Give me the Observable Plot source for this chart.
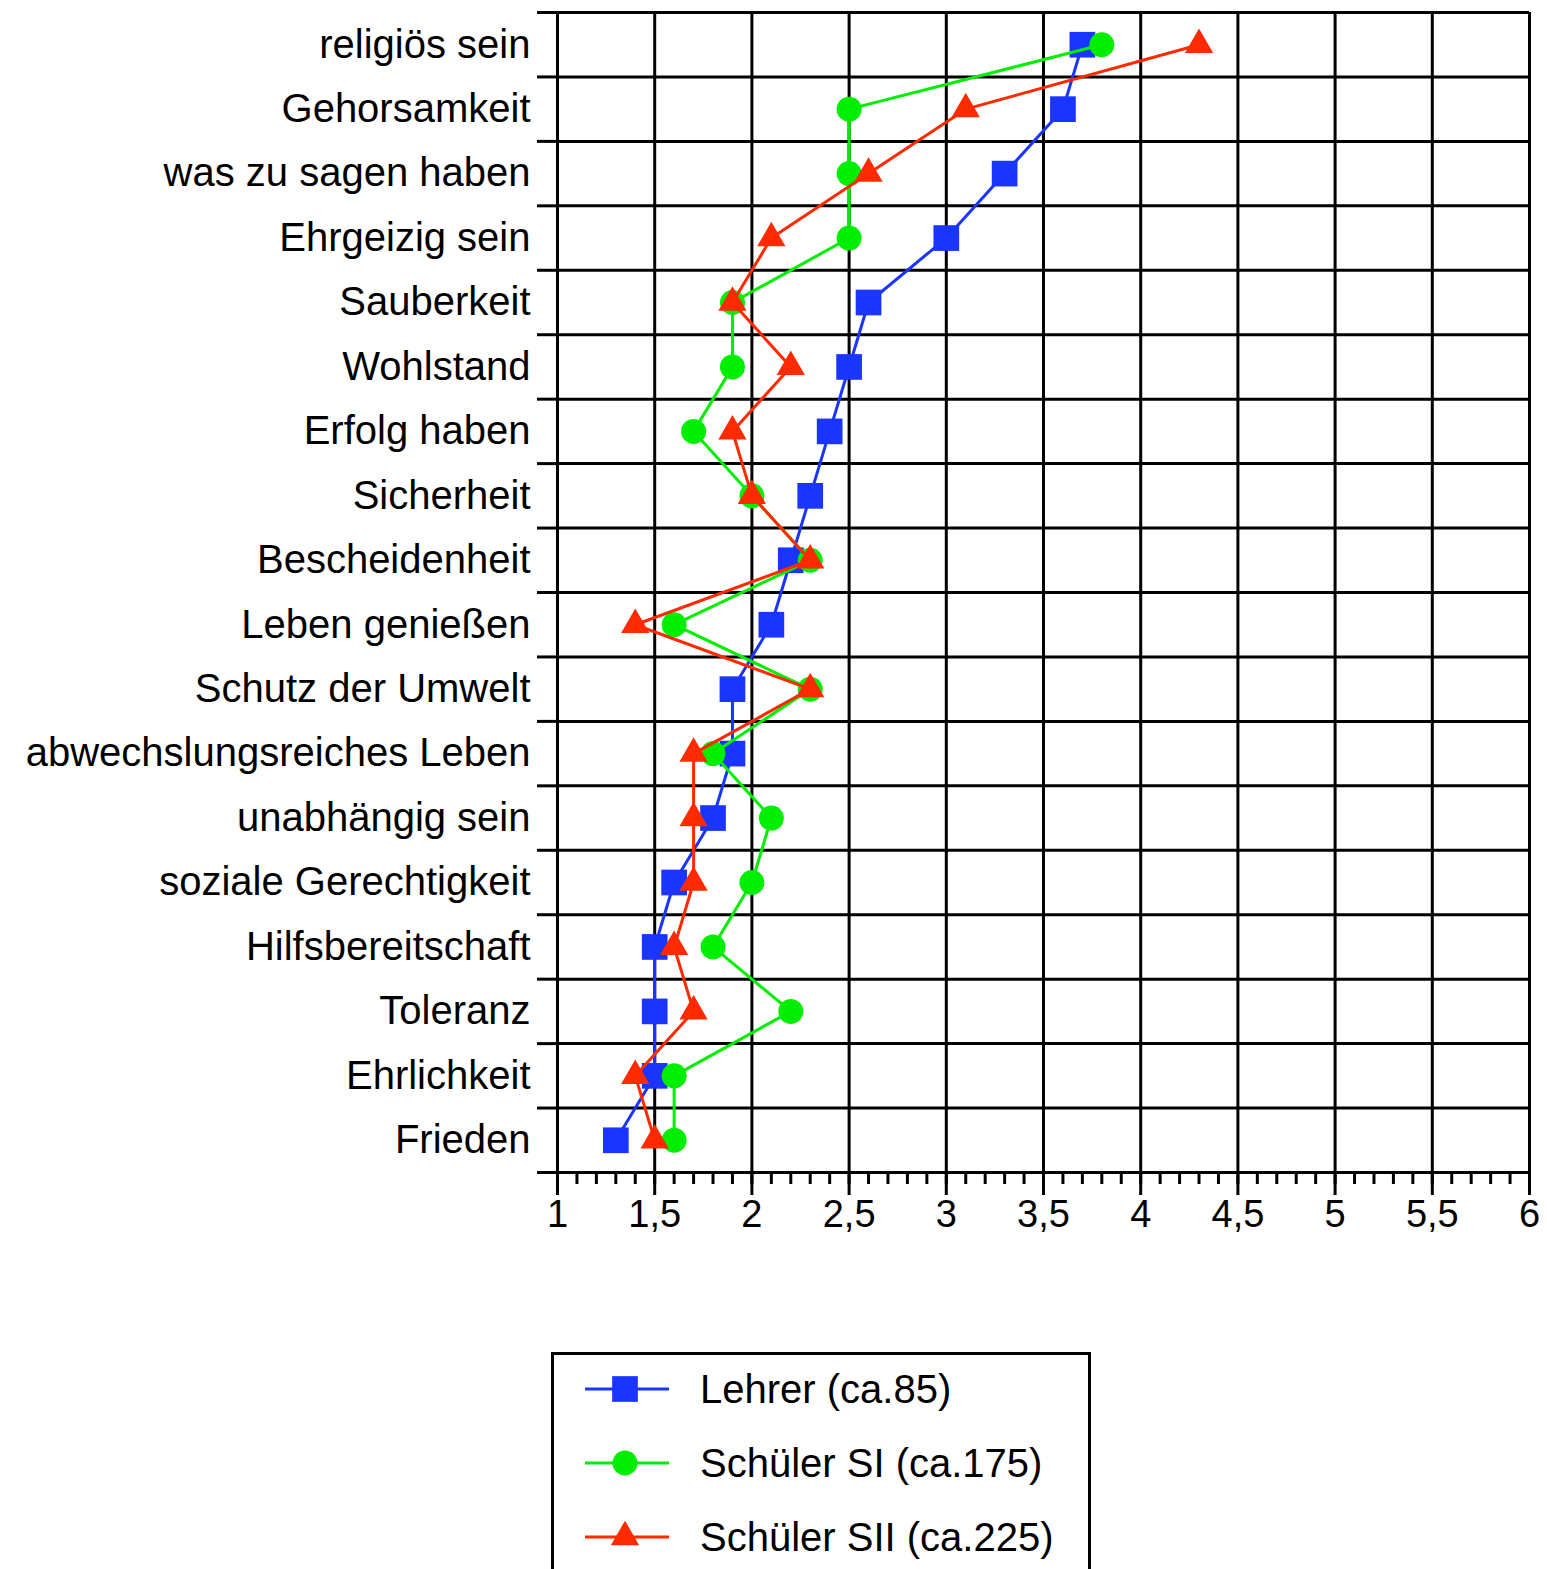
<!DOCTYPE html>
<html>
<head>
<meta charset="utf-8">
<script src="https://cdn.jsdelivr.net/npm/d3@7"></script>
<script src="https://cdn.jsdelivr.net/npm/@observablehq/plot@0.6"></script>
<style>
  body { margin: 0; background: #fff; font-family: "Liberation Sans", Arial, sans-serif; }
  #legend { position: absolute; left: 551px; top: 1352px; width: 534px; height: 240px; border: 3px solid #000; background: #fff; }
  .row { position: absolute; left: 30px; height: 50px; display: flex; align-items: center; }
  .row span { font-size: 40px; color: #000; margin-left: 30px; white-space: nowrap; }
</style>
</head>
<body>
<div id="chart"></div>
<div id="legend"></div>
<script>
const categories = ["religiös sein","Gehorsamkeit","was zu sagen haben","Ehrgeizig sein","Sauberkeit","Wohlstand","Erfolg haben","Sicherheit","Bescheidenheit","Leben genießen","Schutz der Umwelt","abwechslungsreiches Leben","unabhängig sein","soziale Gerechtigkeit","Hilfsbereitschaft","Toleranz","Ehrlichkeit","Frieden"];
const lehrer     = [3.7,3.6,3.3,3.0,2.6,2.5,2.4,2.3,2.2,2.1,1.9,1.9,1.8,1.6,1.5,1.5,1.5,1.3];
const schuelerSI = [3.8,2.5,2.5,2.5,1.9,1.9,1.7,2.0,2.3,1.6,2.3,1.8,2.1,2.0,1.8,2.2,1.6,1.6];
const schuelerSII= [4.3,3.1,2.6,2.1,1.9,2.2,1.9,2.0,2.3,1.4,2.3,1.7,1.7,1.7,1.6,1.7,1.4,1.5];
const seriesNames = ["Lehrer (ca.85)","Schüler SI (ca.175)","Schüler SII (ca.225)"];
const xMajorTicks = [1,1.5,2,2.5,3,3.5,4,4.5,5,5.5,6];

const seriesDefs = [
  {name: seriesNames[0], values: lehrer, color: "#1a35ff", symbol: "square", r: 14.5},
  {name: seriesNames[1], values: schuelerSI, color: "#00ee00", symbol: "circle", r: 12.5},
  {name: seriesNames[2], values: schuelerSII, color: "#ff2a00", symbol: "triangle", r: 10.5}
];

const rows = seriesDefs.map(s => s.values.map((v, i) => ({series: s.name, cat: categories[i], value: v, pos: i + 0.5})));
const minorTicks = d3.range(10, 61).map(d => d / 10);
const rowEdges = d3.range(categories.length + 1);
const labelPos = categories.map((c, i) => i + 0.5);

const seriesMarks = seriesDefs.flatMap((s, k) => [
  Plot.line(rows[k], {x: "value", y: "pos", stroke: s.color, strokeWidth: 3}),
  Plot.dot(rows[k], {x: "value", y: "pos", fill: s.color, symbol: s.symbol, r: s.r, stroke: "none"})
]);

const chart = Plot.plot({
  width: 1547,
  height: 1260,
  marginLeft: 557,
  marginRight: 18,
  marginTop: 12,
  marginBottom: 88,
  style: {fontFamily: "'Liberation Sans', Arial, sans-serif", background: "#fff", color: "#000"},
  x: {domain: [1, 6], label: null},
  y: {domain: [0, categories.length], reverse: true, label: null},
  marks: [
    Plot.ruleX(xMajorTicks, {stroke: "#000", strokeWidth: 3}),
    Plot.ruleY(rowEdges, {stroke: "#000", strokeWidth: 3}),
    Plot.axisY({ticks: rowEdges, tickSize: 20, tickFormat: () => "", strokeWidth: 3, stroke: "#000", label: null}),
    Plot.axisY({ticks: labelPos, tickSize: 0, tickPadding: 27, tickFormat: d => categories[Math.floor(d)], fontSize: 40, fill: "#000", label: null}),
    Plot.axisX({ticks: minorTicks, tickSize: 12, tickFormat: () => "", strokeWidth: 3, stroke: "#000", label: null}),
    Plot.axisX({ticks: xMajorTicks, tickSize: 23, tickPadding: 5, tickFormat: d => String(d).replace(".", ","), fontSize: 38, strokeWidth: 3, stroke: "#000", fill: "#000", label: null}),
    ...seriesMarks
  ]
});
document.getElementById("chart").appendChild(chart);

// Legend
const legend = d3.select("#legend");
seriesDefs.forEach((s, k) => {
  const row = legend.append("div").attr("class", "row").style("top", (9 + k * 74) + "px");
  const svg = row.append("svg").attr("width", 86).attr("height", 50);
  svg.append("line").attr("x1", 1).attr("x2", 85).attr("y1", 25).attr("y2", 25).attr("stroke", s.color).attr("stroke-width", 3);
  const sym = {square: d3.symbolSquare, circle: d3.symbolCircle, triangle: d3.symbolTriangle}[s.symbol];
  svg.append("path").attr("d", d3.symbol(sym, Math.PI * s.r * s.r)()).attr("transform", "translate(41,25)").attr("fill", s.color);
  row.append("span").text(s.name);
});
</script>
</body>
</html>
